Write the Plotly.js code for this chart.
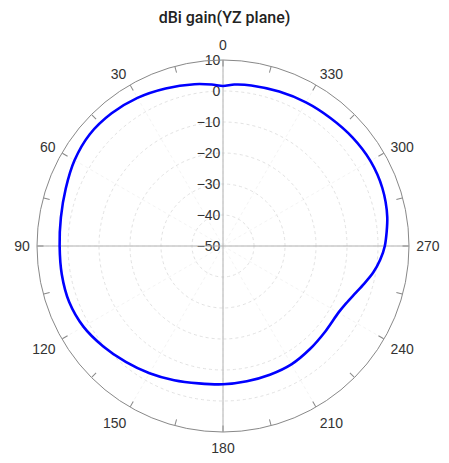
<!DOCTYPE html>
<html>
<head>
<meta charset="utf-8">
<script src="https://cdn.plot.ly/plotly-3.0.1.min.js"></script>
<style>html,body{margin:0;padding:0;background:#fff;}#chart{width:449px;height:463px;}</style>
</head>
<body>
<div id="chart"></div>
<script>
// Angle in degrees (0 at top, counter-clockwise), gain in dBi
const angleDeg = [0, 4, 10, 20, 30, 40, 50, 60, 70, 80, 90, 100, 110, 120, 130, 140, 150, 160, 170, 180,
  190, 200, 210, 220, 230, 240, 245, 250, 255, 260, 265, 270, 280, 290, 300, 310, 320, 330, 340, 350, 356, 360];
const gainDbi = [1.6, 2.2, 3.0, 4.1, 5.2, 5.9, 6.1, 5.3, 4.0, 3.1, 2.7, 2.8, 2.8, 2.0, 0.4, -1.2, -2.6, -3.9, -5.0, -5.4,
  -5.7, -5.8, -5.9, -6.5, -7.0, -7.0, -6.2, -4.8, -2.9, -0.8, 0.9, 2.2, 3.8, 4.7, 4.9, 4.5, 3.9, 3.5, 3.0, 2.6, 2.2, 1.6];

const angLabelVals = [0,30,60,90,120,150,180,210,240,270,300,330];
const angLabelText = ['0','30','60','90','120','150','180','210','240','270','300','330'];
const angMinorVals = [0,15,30,45,60,75,90,105,120,135,150,165,180,195,210,225,240,255,270,285,300,315,330,345];
const crossVals = [0, 90, 180, 270];
const radialTicks = [-50, -40, -30, -20, -10, 0, 10];
const radialRange = [-50, 10];
const titleText = 'dBi gain(YZ plane)';

const dom = {x: [0, 1], y: [0, 1]};
const tickFont = {family: 'Liberation Sans, Arial, sans-serif', size: 14, color: '#333'};
const hiddenRadial = {range: radialRange, angle: 90, showticklabels: false, ticks: '', showline: false, showgrid: false};

const data = [
  {type: 'scatterpolar', subplot: 'polar', theta: [], r: [], mode: 'lines', hoverinfo: 'skip', showlegend: false},
  {type: 'scatterpolar', subplot: 'polar3', theta: [], r: [], mode: 'lines', hoverinfo: 'skip', showlegend: false},
  {
    type: 'scatterpolar',
    subplot: 'polar2',
    theta: angleDeg,
    r: gainDbi,
    mode: 'lines',
    line: {color: '#0000ff', width: 2.6, shape: 'spline', smoothing: 0.8},
    hoverinfo: 'skip',
    showlegend: false
  }
];

const layout = {
  width: 449, height: 463,
  paper_bgcolor: '#fff',
  margin: {l: 0, r: 3, t: 60, b: 31},
  title: {text: titleText, x: 0.5, xanchor: 'center', y: 0.963, yanchor: 'middle',
    font: {family: 'Roboto, sans-serif', size: 16, weight: 500, color: '#222'}},
  polar: {
    domain: dom,
    bgcolor: '#fff',
    angularaxis: {
      rotation: 90, direction: 'counterclockwise',
      tickmode: 'array', tickvals: angLabelVals, ticktext: angLabelText,
      ticks: 'outside', ticklen: 4, tickcolor: 'rgba(0,0,0,0)',
      showline: false,
      showgrid: true, gridcolor: '#f4f4f4', griddash: 'dot',
      tickfont: tickFont
    },
    radialaxis: {
      range: radialRange, angle: 90, side: 'counterclockwise',
      tickmode: 'array', tickvals: radialTicks,
      ticks: '', showline: false,
      showgrid: true, gridcolor: '#e2e2e2', griddash: 'dot',
      tickfont: tickFont, tickangle: 90
    }
  },
  polar3: {
    domain: dom,
    bgcolor: 'rgba(0,0,0,0)',
    angularaxis: {
      rotation: 90, direction: 'counterclockwise',
      tickmode: 'array', tickvals: angMinorVals,
      showticklabels: false,
      ticks: 'inside', ticklen: 6, tickcolor: '#888', tickwidth: 1,
      showline: true, linecolor: '#888', linewidth: 1,
      showgrid: false
    },
    radialaxis: hiddenRadial
  },
  polar2: {
    domain: dom,
    bgcolor: 'rgba(0,0,0,0)',
    angularaxis: {
      rotation: 90, direction: 'counterclockwise',
      tickmode: 'array', tickvals: crossVals,
      showticklabels: false, ticks: '', showline: false,
      showgrid: true, gridcolor: '#b0b0b0', gridwidth: 1
    },
    radialaxis: hiddenRadial
  }
};

Plotly.newPlot('chart', data, layout, {displayModeBar: false, staticPlot: true});
</script>
</body>
</html>
